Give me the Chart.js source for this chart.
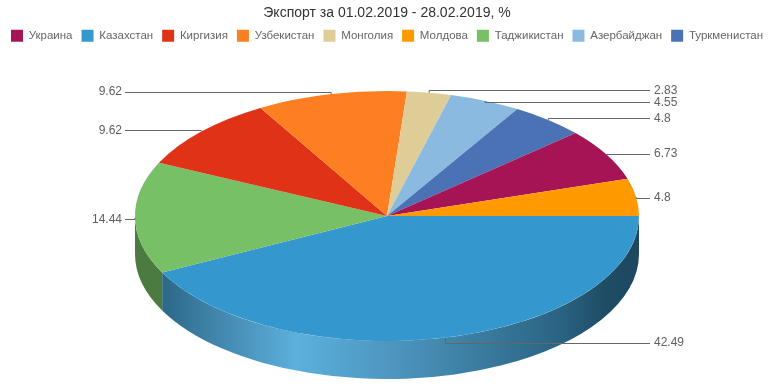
<!DOCTYPE html>
<html>
<head>
<meta charset="utf-8">
<script src="https://cdn.jsdelivr.net/npm/chart.js@4"></script>
<style>
  html, body { margin: 0; padding: 0; background: #fff; }
  canvas { display: block; }
</style>
</head>
<body>
<canvas id="chart" width="774" height="387"></canvas>
<script>
// slices in drawing order (clockwise from 3 o'clock)
const categories = ['Казахстан', 'Таджикистан', 'Киргизия', 'Узбекистан', 'Монголия', 'Азербайджан', 'Туркменистан', 'Украина', 'Молдова'];
const values = [42.49, 14.44, 9.62, 9.62, 2.83, 4.55, 4.8, 6.73, 4.8];
const legendOrder = ['Украина', 'Казахстан', 'Киргизия', 'Узбекистан', 'Монголия', 'Молдова', 'Таджикистан', 'Азербайджан', 'Туркменистан'];
const colors = ['#3498ce', '#77c066', '#df3217', '#fe7f22', '#dfcd98', '#8bbae0', '#4a72b4', '#a51556', '#ff9900'];

const FONT = '"Liberation Sans", Arial, Helvetica, sans-serif';
const pieRadius = 125;       // vertical radius of the tilted pie
const stretch = 252 / 125;   // horizontal / vertical radius
const depth = 38;

function darken(hex, f) {
  const n = parseInt(hex.slice(1), 16);
  const r = Math.round(((n >> 16) & 255) * f), g = Math.round(((n >> 8) & 255) * f), b = Math.round((n & 255) * f);
  return 'rgb(' + r + ',' + g + ',' + b + ')';
}

const pie3d = {
  id: 'pie3d',
  afterLayout(chart) {
    // leave room under the legend: pie area sits just above the bottom padding
    const area = chart.chartArea;
    area.top = area.bottom - 2 * pieRadius;
    area.height = area.bottom - area.top;
  },
  beforeDatasetsDraw(chart) {
    const ctx = chart.ctx;
    const arcs = chart.getDatasetMeta(0).data;
    const cx = arcs[0].x, cy = arcs[0].y, ry = arcs[0].outerRadius, rx = ry * stretch;

    // outer walls of the front half
    arcs.forEach((arc, i) => {
      const a1 = Math.max(arc.startAngle, 0), a2 = Math.min(arc.endAngle, Math.PI);
      if (a2 <= a1) return;
      ctx.beginPath();
      ctx.ellipse(cx, cy, rx, ry, 0, a1, a2);
      ctx.ellipse(cx, cy + depth, rx, ry, 0, a2, a1, true);
      ctx.closePath();
      if (i === 0) {
        const g = ctx.createLinearGradient(cx - rx, 0, cx + rx, 0);
        g.addColorStop(0, '#285d7c');
        g.addColorStop(0.06, '#2d6989');
        g.addColorStop(0.14, '#3d80a5');
        g.addColorStop(0.32, '#5cb0dc');
        g.addColorStop(0.53, '#4b93bc');
        g.addColorStop(0.84, '#2a6483');
        g.addColorStop(0.93, '#1f4d66');
        g.addColorStop(1, '#1c4860');
        ctx.fillStyle = g;
      } else {
        ctx.fillStyle = darken(colors[i], 0.64);
      }
      ctx.fill();
    });

    ctx.save();
    ctx.translate(cx, cy);
    ctx.scale(stretch, 1);
    ctx.translate(-cx, -cy);
  },
  afterDatasetsDraw(chart) {
    const ctx = chart.ctx;
    ctx.restore();

    const arcs = chart.getDatasetMeta(0).data;
    const cx = arcs[0].x, cy = arcs[0].y, ry = arcs[0].outerRadius, rx = ry * stretch;
    const items = arcs.map((arc, i) => {
      const m = (arc.startAngle + arc.endAngle) / 2;
      return {
        i: i,
        right: Math.cos(m) >= 0,
        ax: cx + rx * Math.cos(m),
        ay: cy + ry * Math.sin(m),
        y: cy + (ry + 4) * Math.sin(m) + 1.5
      };
    });

    ctx.save();
    ctx.font = '12px ' + FONT;
    ctx.textBaseline = 'middle';
    ctx.strokeStyle = '#666666';
    ctx.fillStyle = '#606060';
    ctx.lineWidth = 1;
    [true, false].forEach(side => {
      const list = items.filter(it => it.right === side).sort((a, b) => a.y - b.y);
      for (let k = 1; k < list.length; k++) {
        if (list[k].y < list[k - 1].y + 12) list[k].y = list[k - 1].y + 12;
      }
      list.forEach(it => {
        const lineEnd = side ? cx + rx + 11 : cx - rx - 10;
        const ly = Math.round(it.y) + 0.5;
        ctx.beginPath();
        ctx.moveTo(lineEnd, ly);
        ctx.lineTo(it.ax, ly);
        ctx.lineTo(it.ax, it.ay);
        ctx.stroke();
        ctx.textAlign = side ? 'left' : 'right';
        ctx.fillText(String(values[it.i]), side ? cx + rx + 15 : cx - rx - 13, it.y);
      });
    });
    ctx.restore();
  }
};

new Chart(document.getElementById('chart').getContext('2d'), {
  type: 'pie',
  data: {
    labels: categories,
    datasets: [{
      data: values,
      backgroundColor: colors,
      borderWidth: 0,
      clip: false
    }]
  },
  options: {
    responsive: false,
    animation: false,
    rotation: 90,
    layout: { padding: { top: 0, bottom: 46, left: 0, right: 0 } },
    plugins: {
      title: {
        display: true,
        text: 'Экспорт за 01.02.2019 - 28.02.2019, %',
        color: '#333333',
        font: { family: FONT, size: 14, weight: 'normal' },
        padding: { top: 5, bottom: -1 }
      },
      legend: {
        display: true,
        position: 'top',
        labels: {
          boxWidth: 12,
          boxHeight: 12,
          padding: 9,
          color: '#666666',
          font: { family: FONT, size: 11.5 },
          sort: (a, b) => legendOrder.indexOf(a.text) - legendOrder.indexOf(b.text)
        }
      },
      tooltip: { enabled: false }
    }
  },
  plugins: [pie3d]
});
</script>
</body>
</html>
